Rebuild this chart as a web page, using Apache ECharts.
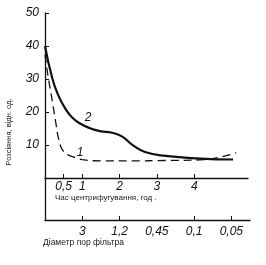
<!DOCTYPE html>
<html>
<head>
<meta charset="utf-8">
<script src="https://cdn.jsdelivr.net/npm/echarts@6/dist/echarts.min.js"></script>
<style>html,body{margin:0;padding:0;background:#fff}#c{width:266px;height:265px}</style>
</head>
<body>
<div id="c"></div>
<script>
// Time axis (hours) ticks
const timeTicks = [0.5, 1, 2, 3, 4];
// Filter pore diameter labels placed at time positions 1..5
const filterPositions = [1, 2, 3, 4, 5];
const filterLabels = ['3', '1,2', '0,45', '0,1', '0,05'];
const filterTickPositions = [1, 2, 4, 5];
// Y ticks
const yTicks = [10, 20, 30, 40, 50];

// Curve 1 (dashed)
const curve1T = [0, 0.08, 0.2, 0.3, 0.36, 0.42, 0.5, 0.62, 0.75, 1.0, 1.5, 2.36, 3.24, 4.16, 4.56, 5.12];
const curve1V = [37.3, 31, 23, 16, 12, 9.6, 8, 7, 6.4, 5.6, 5.2, 5.2, 5.3, 5.5, 6.0, 7.6];
// Curve 2 (solid)
const curve2T = [0, 0.18, 0.35, 0.58, 0.75, 0.94, 1.2, 1.47, 1.8, 2.06, 2.36, 2.68, 3.24, 4.16, 5.04];
const curve2V = [40, 30.9, 25.2, 20.4, 18.1, 16.5, 15.1, 14.2, 13.7, 12.6, 9.9, 7.9, 6.7, 5.9, 5.6];

const ink = '#111';
const numFont = {fontFamily: 'Liberation Sans', fontStyle: 'italic', fontSize: 12, color: ink};

const chart = echarts.init(document.getElementById('c'), null, {renderer: 'canvas'});
chart.setOption({
  animation: false,
  backgroundColor: '#fff',
  grid: [
    {left: 45, top: 13, width: 203, height: 165},
    {left: 45, top: 178, width: 205, height: 42}
  ],
  xAxis: [
    {
      gridIndex: 0, type: 'value', min: 0, max: 5.44,
      axisLine: {show: true, lineStyle: {color: ink, width: 1.3}},
      axisTick: {show: true, inside: true, length: 4, customValues: timeTicks, lineStyle: {color: ink}},
      axisLabel: Object.assign({customValues: timeTicks, margin: 3,
        formatter: v => String(v).replace('.', ',')}, numFont),
      splitLine: {show: false}
    },
    {
      gridIndex: 1, type: 'value', min: 0, max: 5.5,
      axisLine: {show: true, lineStyle: {color: ink, width: 1.3}},
      axisTick: {show: true, inside: true, length: 4, customValues: filterTickPositions, lineStyle: {color: ink}},
      axisLabel: Object.assign({customValues: filterPositions, margin: 6,
        formatter: v => filterLabels[filterPositions.indexOf(v)] || ''}, numFont),
      splitLine: {show: false}
    }
  ],
  yAxis: [
    {
      gridIndex: 0, type: 'value', min: 0, max: 50,
      axisLine: {show: true, lineStyle: {color: ink, width: 1.3}},
      axisTick: {show: true, inside: true, length: 4, customValues: yTicks, lineStyle: {color: ink}},
      axisLabel: Object.assign({customValues: yTicks, margin: 6}, numFont),
      splitLine: {show: false}
    },
    {
      gridIndex: 1, type: 'value', min: 0, max: 1,
      axisLine: {show: true, lineStyle: {color: ink, width: 1.3}},
      axisTick: {show: false}, axisLabel: {show: false}, splitLine: {show: false}
    }
  ],
  series: [
    {
      name: '1', type: 'line', xAxisIndex: 0, yAxisIndex: 0,
      data: curve1T.map((t, i) => [t, curve1V[i]]),
      smooth: 0.5, showSymbol: false,
      lineStyle: {color: ink, width: 1.3, type: [8, 5]}
    },
    {
      name: '2', type: 'line', xAxisIndex: 0, yAxisIndex: 0,
      data: curve2T.map((t, i) => [t, curve2V[i]]),
      smooth: 0.5, showSymbol: false,
      lineStyle: {color: ink, width: 2.2}
    }
  ],
  graphic: [
    {type: 'text', left: 55, top: 194, style: {text: 'Час центрифугування, год .', fontFamily: 'Liberation Sans', fontSize: 8, fill: '#222'}},
    {type: 'text', left: 43, top: 238, style: {text: 'Діаметр пор фільтра', fontFamily: 'Liberation Sans', fontSize: 8.5, fill: '#222'}},
    {type: 'text', x: 9, y: 132, rotation: Math.PI / 2, style: {text: 'Розсіяння, відн. од.', fontFamily: 'Liberation Sans', fontSize: 7.5, fill: '#222', align: 'center', verticalAlign: 'middle'}},
    {type: 'text', x: 80, y: 153, style: {text: '1', fontFamily: 'Liberation Sans', fontStyle: 'italic', fontSize: 12, fill: ink, align: 'center', verticalAlign: 'middle'}},
    {type: 'text', x: 88, y: 118, style: {text: '2', fontFamily: 'Liberation Sans', fontStyle: 'italic', fontSize: 12, fill: ink, align: 'center', verticalAlign: 'middle'}}
  ]
});
</script>
</body>
</html>
